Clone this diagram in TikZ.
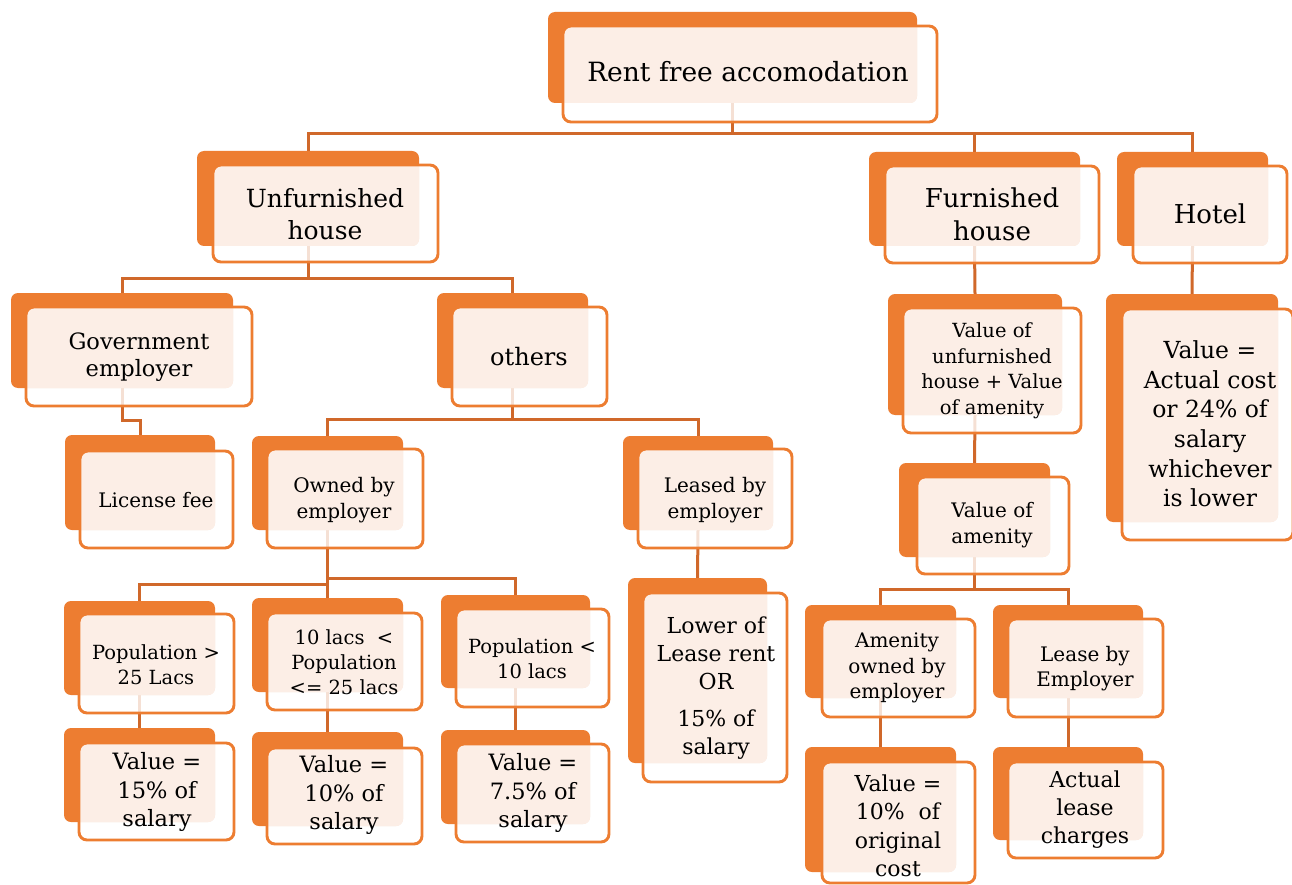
\documentclass[tikz,border=0pt]{standalone}
\usepackage{fontspec}
\setmainfont{DejaVu Serif}
\pgfdeclarelayer{paper}
\pgfdeclarelayer{bg}
\pgfsetlayers{paper,bg,main}
\definecolor{boxorange}{HTML}{ED7D31}
\definecolor{peachc}{HTML}{FCEEE6}
\definecolor{lineorange}{HTML}{D0682A}
\definecolor{txtc}{HTML}{000000}
\tikzset{
 backshape/.style={rectangle, rounded corners=7pt, fill=boxorange, inner sep=0pt, outer sep=0pt},
 frontshape/.style={rectangle, rounded corners=8pt, fill=white, fill opacity=0.8, inner sep=0pt, outer sep=0pt},
 frontborder/.style={draw=boxorange, line width=2.9pt, rounded corners=8pt},
 conn/.style={draw=lineorange, line width=3pt},
 txt/.style={align=center, text=txtc, inner sep=0pt},
}
\newcommand\FS[2]{\fontsize{#1}{#2}\selectfont}
\newcommand\MkBack[5]{\node[backshape, minimum width={(#4-#2)*1pt}, minimum height={(#5-#3)*1pt}] (#1B) at ({(#2+#4)/2},{(#3+#5)/2}) {};}
\newcommand\MkFront[5]{\node[frontshape, minimum width={(#4-#2)*1pt}, minimum height={(#5-#3)*1pt}] (#1F) at ({(#2+#4)/2},{(#3+#5)/2}) {};
 \begin{scope}\clip[rounded corners=8pt] (#1F.south west) rectangle (#1F.north east);
 \fill[peachc, rounded corners=7pt] (#1B.south west) rectangle (#1B.north east);\end{scope}
 \draw[frontborder] (#1F.south west) rectangle (#1F.north east);}
\begin{document}
\begin{tikzpicture}[x=1pt,y=-1pt]
\useasboundingbox (0,0) rectangle (1292,885);
\begin{pgfonlayer}{paper}
\fill[white] (0,0) rectangle (1292,885);
\end{pgfonlayer}
% boxes
\MkBack{root}{548}{12}{917}{103}\MkFront{root}{563}{26}{937}{122}
\MkBack{unf}{197}{151}{419}{246}\MkFront{unf}{213}{165}{438}{262}
\MkBack{fur}{869}{152}{1080}{246}\MkFront{fur}{885}{166}{1099}{263}
\MkBack{hot}{1117}{152}{1268}{246}\MkFront{hot}{1133}{166}{1287}{263}
\MkBack{gov}{11}{293}{233}{388}\MkFront{gov}{26}{307}{252}{406}
\MkBack{oth}{437}{293}{588}{388}\MkFront{oth}{452}{307}{607}{406}
\MkBack{vu}{888}{294}{1062}{415}\MkFront{vu}{903}{308}{1081}{433}
\MkBack{hv}{1106}{294}{1278}{522}\MkFront{hv}{1122}{309}{1293}{540}
\MkBack{lic}{65}{435}{215}{530}\MkFront{lic}{80}{451}{233}{548}
\MkBack{own}{252}{436}{403}{530}\MkFront{own}{267}{449}{423}{548}
\MkBack{lea}{623}{436}{773}{530}\MkFront{lea}{638}{449}{792}{548}
\MkBack{va}{899}{463}{1050}{557}\MkFront{va}{917}{477}{1069}{574}
\MkBack{pa}{64}{601}{215}{695}\MkFront{pa}{79}{614}{234}{713}
\MkBack{pb}{252}{598}{403}{692}\MkFront{pb}{267}{613}{422}{710}
\MkBack{pc}{441}{595}{590}{688}\MkFront{pc}{456}{609}{609}{707}
\MkBack{low}{628}{578}{767}{763}\MkFront{low}{643}{593}{787}{782}
\MkBack{ao}{805}{605}{956}{698}\MkFront{ao}{822}{619}{975}{717}
\MkBack{le}{993}{605}{1143}{698}\MkFront{le}{1008}{619}{1163}{717}
\MkBack{va1}{64}{728}{215}{822}\MkFront{va1}{79}{743}{234}{840}
\MkBack{va2}{252}{732}{403}{826}\MkFront{va2}{267}{748}{422}{844}
\MkBack{va3}{441}{730}{590}{824}\MkFront{va3}{456}{744}{609}{842}
\MkBack{va4}{805}{747}{956}{872}\MkFront{va4}{822}{762}{975}{883}
\MkBack{va5}{993}{747}{1143}{840}\MkFront{va5}{1008}{762}{1163}{858}
% texts
\node[txt, font=\FS{26.5}{32}] (rootT) at (748,72) {Rent free accomodation};
\node[txt, font=\FS{25}{32}] (unfT) at (325,214) {Unfurnished\\house};
\node[txt, font=\FS{26}{33}] (furT) at (992,214) {Furnished\\house};
\node[txt, font=\FS{26}{33}] (hotT) at (1210,214) {Hotel};
\node[txt, font=\FS{22.5}{27}] (govT) at (139,357) {Government\\employer};
\node[txt, font=\FS{24}{29}] (othT) at (529,357) {others};
\node[txt, font=\FS{19.5}{25.5}] (vuT) at (992,371) {Value of\\unfurnished\\house + Value\\of amenity};
\node[txt, font=\FS{23.5}{29.6}] (hvT) at (1210,424) {Value =\\Actual cost\\or 24\% of\\salary\\whichever\\is lower};
\node[txt, font=\FS{20}{26}] (licT) at (156,500) {License fee};
\node[txt, font=\FS{20}{26}] (ownT) at (344,500) {Owned by\\employer};
\node[txt, font=\FS{20}{26}] (leaT) at (715,500) {Leased by\\employer};
\node[txt, font=\FS{20}{26}] (vaT) at (992,525) {Value of\\amenity};
\node[txt, font=\FS{19.5}{25}] (paT) at (156,665) {Population >\\25 Lacs};
\node[txt, font=\FS{19.5}{25}] (pbT) at (344,662) {10 lacs~ <\\Population\\<= 25 lacs};
\node[txt, font=\FS{19.5}{25}] (pcT) at (532,659) {Population <\\10 lacs};
\node[txt, font=\FS{22}{28}] (lowT) at (716,688) {Lower of\\Lease rent\\OR\\[9pt]15\% of\\salary};
\node[txt, font=\FS{20}{25.5}] (aoT) at (897,668) {Amenity\\owned by\\employer};
\node[txt, font=\FS{20}{25}] (leT) at (1085,669) {Lease by\\Employer};
\node[txt, font=\FS{22.5}{28.5}] (va1T) at (157,792) {Value =\\15\% of\\salary};
\node[txt, font=\FS{22.5}{28.5}] (va2T) at (344,795) {Value =\\10\% of\\salary};
\node[txt, font=\FS{22.5}{28.5}] (va3T) at (533,793) {Value =\\7.5\% of\\salary};
\node[txt, font=\FS{22}{28.5}] (va4T) at (898,826) {Value =\\10\%~ of\\original\\cost};
\node[txt, font=\FS{22}{28}] (va5T) at (1085,810) {Actual\\lease\\charges};
% connectors
\begin{pgfonlayer}{bg}
\coordinate (j1) at (rootB.south |- 0,134);
\draw[conn] (rootB.south) -- (j1) -| (unfB.north);
\draw[conn] (j1) -| (furB.north);
\draw[conn] (j1) -| (hotB.north);
\coordinate (j2) at (unfB.south |- 0,278);
\draw[conn] (unfB.south) -- (j2) -| (govB.north);
\draw[conn] (j2) -| (othB.north);
\coordinate (j3) at (govB.south |- 0,420);
\draw[conn] (govB.south) -- (j3) -| (licB.north);
\coordinate (j4) at (othB.south |- 0,419);
\draw[conn] (othB.south) -- (j4) -| (ownB.north);
\draw[conn] (j4) -| (leaB.north);
\coordinate (j5) at (ownB.south |- 0,584);
\coordinate (j6) at (ownB.south |- 0,578);
\draw[conn] (ownB.south) -- (pbB.north);
\draw[conn] (j5) -| (paB.north);
\draw[conn] (j6) -| (pcB.north);
\draw[conn] (paB.south) -- (va1B.north);
\draw[conn] (pbB.south) -- (va2B.north);
\draw[conn] (pcB.south) -- (va3B.north);
\draw[conn] (leaB.south) -- (lowB.north);
\draw[conn] (furB.south) -- (vuB.north);
\draw[conn] (vuB.south) -- (vaB.north);
\draw[conn] (hotB.south) -- (hvB.north);
\coordinate (j7) at (vaB.south |- 0,589);
\draw[conn] (vaB.south) -- (j7) -| (aoB.north);
\draw[conn] (j7) -| (leB.north);
\draw[conn] (aoB.south) -- (va4B.north);
\draw[conn] (leB.south) -- (va5B.north);
\end{pgfonlayer}
\end{tikzpicture}
\end{document}
